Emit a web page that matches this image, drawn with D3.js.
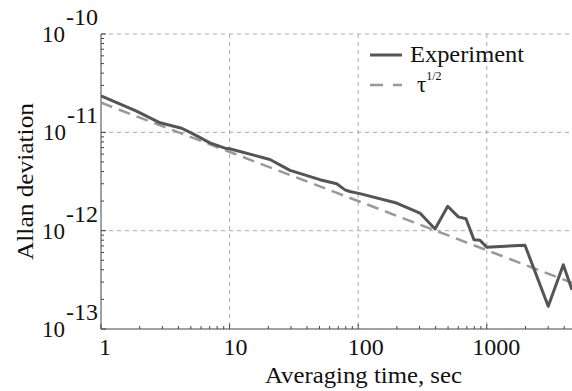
<!DOCTYPE html>
<html>
<head>
<meta charset="utf-8">
<script src="https://cdn.jsdelivr.net/npm/d3@7"></script>
<style>
  body { margin: 0; background: #fff; }
  text { font-family: "Liberation Serif", "Times New Roman", serif; fill: #111; }
</style>
</head>
<body>
<svg id="chart" width="572" height="391"></svg>
<script>
// averaging time (s) and Allan deviation
const tau = [1, 1.87, 2.88, 4.24, 5.07, 7.03, 9.2, 10, 20.6, 29.5, 50.4, 68, 79, 86, 103,
  199, 302, 396, 497, 601, 689, 795, 885, 998, 1982, 3006, 3936, 4600];
const adev = [2.35e-11, 1.65e-11, 1.25e-11, 1.1e-11, 9.8e-12, 7.8e-12, 6.9e-12, 6.8e-12,
  5.3e-12, 4.1e-12, 3.3e-12, 3.0e-12, 2.6e-12, 2.5e-12, 2.38e-12, 1.91e-12, 1.51e-12,
  1.04e-12, 1.77e-12, 1.38e-12, 1.32e-12, 8.1e-13, 8.0e-13, 6.8e-13, 7.1e-13, 1.7e-13,
  4.5e-13, 2.5e-13];
// tau^-1/2 reference line, end points
const fitTau = [1, 4600];
const fitDev = [2.0e-11, 2.95e-13];

const xTicks = [1, 10, 100, 1000];
const xTickLabels = ['1', '10', '100', '1000'];
const yTicks = [1e-13, 1e-12, 1e-11, 1e-10];
const yTickExp = ['-13', '-12', '-11', '-10'];

var svg = d3.select('#chart');
var mLeft = 101, mRight = 572, mTop = 34, mBottom = 329;
var xs = d3.scaleLog().domain([1, 4600]).range([mLeft, mRight]);
var ys = d3.scaleLog().domain([1e-13, 1e-10]).range([mBottom, mTop]);

// grid
var grid = svg.append('g').attr('stroke', '#aaa').attr('stroke-dasharray', '4,4').attr('stroke-width', 1);
xTicks.slice(1).forEach(function (t) {
    grid.append('line').attr('x1', xs(t)).attr('x2', xs(t)).attr('y1', mTop).attr('y2', mBottom);
});
yTicks.slice(1).forEach(function (v) {
    grid.append('line').attr('x1', mLeft).attr('x2', mRight).attr('y1', ys(v)).attr('y2', ys(v));
});

// axes lines + minor ticks
var ax = svg.append('g').attr('stroke', '#444').attr('stroke-width', 1);
ax.append('line').attr('x1', mLeft).attr('x2', mLeft).attr('y1', mTop).attr('y2', mBottom);
ax.append('line').attr('x1', mLeft).attr('x2', mRight).attr('y1', mBottom).attr('y2', mBottom);
xTicks.forEach(function (d) {
    for (var k = 1; k < 10; k++) {
        var t = d * k;
        if (t > 4600) break;
        var len = k === 1 ? 5 : 3;
        ax.append('line').attr('x1', xs(t)).attr('x2', xs(t)).attr('y1', mBottom).attr('y2', mBottom - len);
    }
});
yTicks.forEach(function (d) {
    for (var k = 1; k < 10; k++) {
        var v = d * k;
        if (v > 1e-10) break;
        var len = k === 1 ? 5 : 3;
        ax.append('line').attr('x1', mLeft).attr('x2', mLeft + len).attr('y1', ys(v)).attr('y2', ys(v));
    }
});

// tick labels
svg.append('g').selectAll('text').data(xTicks).enter().append('text')
    .attr('x', function (d) { return xs(d); })
    .attr('dx', function (d, i) { return 4 + 1.8 * (xTickLabels[i].length - 1); })
    .attr('y', 355)
    .attr('text-anchor', 'middle')
    .style('font-size', '24px')
    .text(function (d, i) { return xTickLabels[i]; });

var yl = svg.append('g').selectAll('text').data(yTicks).enter().append('text')
    .attr('x', 98)
    .attr('y', function (d) { return ys(d) + 8; })
    .attr('text-anchor', 'end')
    .style('font-size', '23px');
yl.append('tspan').text('10');
yl.append('tspan').attr('dy', -17).attr('dx', 1).style('font-size', '24px').text(function (d, i) { return yTickExp[i]; });

// axis titles
svg.append('text').attr('x', 265).attr('y', 383)
    .attr('textLength', 197).attr('lengthAdjust', 'spacingAndGlyphs')
    .style('font-size', '23px').text('Averaging time, sec');
svg.append('text').attr('transform', 'translate(33,260) rotate(-90)')
    .attr('textLength', 157).attr('lengthAdjust', 'spacingAndGlyphs')
    .style('font-size', '23px').text('Allan deviation');

// clip
svg.append('clipPath').attr('id', 'clip').append('rect')
    .attr('x', mLeft).attr('y', mTop - 5).attr('width', mRight - mLeft).attr('height', mBottom - mTop + 5);

var line = d3.line().x(function (d) { return xs(d[0]); }).y(function (d) { return ys(d[1]); });

svg.append('path')
    .datum(d3.zip(fitTau, fitDev))
    .attr('clip-path', 'url(#clip)')
    .attr('d', line)
    .attr('fill', 'none')
    .attr('stroke', '#999')
    .attr('stroke-width', 2.5)
    .attr('stroke-dasharray', '12,7');

svg.append('path')
    .datum(d3.zip(tau, adev))
    .attr('clip-path', 'url(#clip)')
    .attr('d', line)
    .attr('fill', 'none')
    .attr('stroke', '#555')
    .attr('stroke-width', 3)
    .attr('stroke-linejoin', 'round');

// legend
var lg = svg.append('g');
lg.append('line').attr('x1', 370).attr('x2', 402).attr('y1', 55).attr('y2', 55)
    .attr('stroke', '#555').attr('stroke-width', 3);
lg.append('text').attr('x', 410).attr('y', 62)
    .attr('textLength', 114).attr('lengthAdjust', 'spacingAndGlyphs')
    .style('font-size', '23px').text('Experiment');
lg.append('line').attr('x1', 370).attr('x2', 402).attr('y1', 85).attr('y2', 85)
    .attr('stroke', '#999').attr('stroke-width', 2.5).attr('stroke-dasharray', '13,10');
var tt = lg.append('text').attr('x', 417).attr('y', 92).style('font-size', '23px');
tt.append('tspan').text('τ');
tt.append('tspan').attr('dy', -12).style('font-size', '12px').text('1/2');
</script>
</body>
</html>
